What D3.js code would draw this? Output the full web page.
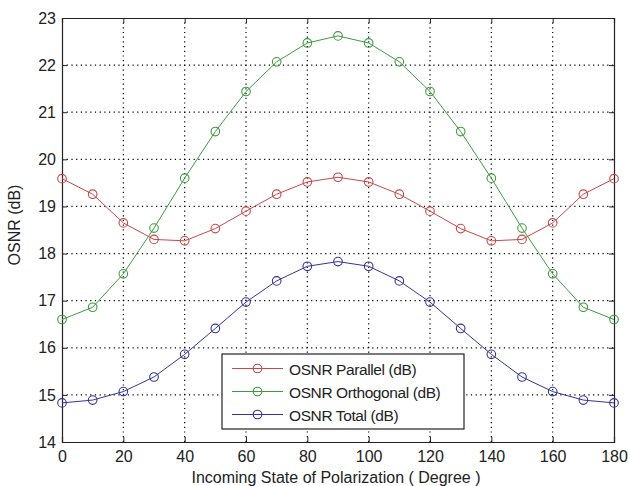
<!DOCTYPE html>
<html>
<head>
<meta charset="utf-8">
<script src="https://cdn.jsdelivr.net/npm/d3@7"></script>
<style>
  body { margin: 0; background: #fff; }
  svg text { font-family: "Liberation Sans", Arial, sans-serif; fill: #222; }
</style>
</head>
<body>
<svg id="chart" width="628" height="486"></svg>
<script>
// polarization angle (degree)
const angles = [0, 10, 20, 30, 40, 50, 60, 70, 80, 90, 100, 110, 120, 130, 140, 150, 160, 170, 180];
const osnrParallel = [19.59, 19.26, 18.65, 18.30, 18.27, 18.53, 18.90, 19.26, 19.52, 19.62, 19.52, 19.26, 18.90, 18.53, 18.27, 18.30, 18.65, 19.26, 19.59];
const osnrOrthogonal = [16.60, 16.86, 17.57, 18.54, 19.60, 20.59, 21.44, 22.07, 22.47, 22.62, 22.47, 22.07, 21.44, 20.59, 19.60, 18.54, 17.57, 16.86, 16.60];
const osnrTotal = [14.83, 14.89, 15.07, 15.38, 15.86, 16.41, 16.97, 17.42, 17.73, 17.83, 17.73, 17.42, 16.97, 16.41, 15.86, 15.38, 15.07, 14.89, 14.83];
const seriesNames = ["OSNR Parallel (dB)", "OSNR Orthogonal (dB)", "OSNR Total (dB)"];
const xTicks = [0, 20, 40, 60, 80, 100, 120, 140, 160, 180];
const yTicks = [14, 15, 16, 17, 18, 19, 20, 21, 22, 23];

/* layout */
const margin = { top: 18, right: 14, bottom: 44, left: 62 };
const width = 628, height = 486;
const colors = ["#c84848", "#3f9a3f", "#34349a"];
const fontSize = 16;

const svg = d3.select("#chart");

const x = d3.scaleLinear().domain([0, 180]).range([margin.left, width - margin.right]);
const y = d3.scaleLinear().domain([14, 23]).range([height - margin.bottom, margin.top]);

// dotted grid
const grid = svg.append("g");
grid.selectAll("line.gx").data(xTicks.slice(1, -1)).enter().append("line")
    .attr("x1", d => x(d)).attr("x2", d => x(d))
    .attr("y1", y(14)).attr("y2", y(23))
    .attr("stroke", "#000").attr("stroke-width", 1.2)
    .attr("stroke-dasharray", "1.2,3.5");
grid.selectAll("line.gy").data(yTicks.slice(1, -1)).enter().append("line")
    .attr("y1", d => y(d)).attr("y2", d => y(d))
    .attr("x1", x(0)).attr("x2", x(180))
    .attr("stroke", "#000").attr("stroke-width", 1.2)
    .attr("stroke-dasharray", "1.2,3.5");

// axes with ticks inside, MATLAB box
const xAxis = d3.axisBottom(x).tickValues(xTicks).tickSize(-5).tickPadding(9);
const yAxis = d3.axisLeft(y).tickValues(yTicks).tickSize(-5).tickPadding(6);

svg.append("g").attr("transform", "translate(0," + y(14) + ")").call(xAxis);
svg.append("g").attr("transform", "translate(" + x(0) + ",0)").call(yAxis);
svg.append("g").attr("transform", "translate(0," + y(23) + ")")
    .call(d3.axisTop(x).tickValues(xTicks).tickSize(-5).tickFormat(""));
svg.append("g").attr("transform", "translate(" + x(180) + ",0)")
    .call(d3.axisRight(y).tickValues(yTicks).tickSize(-5).tickFormat(""));

svg.selectAll(".domain").attr("stroke", "#222").attr("stroke-width", 1.2);
svg.selectAll(".tick line").attr("stroke", "#222");
svg.selectAll(".tick text").attr("font-size", fontSize).attr("fill", "#222")
    .attr("font-family", "Liberation Sans, Arial, sans-serif");

// axis labels
svg.append("text")
    .attr("x", 336).attr("y", 483)
    .attr("text-anchor", "middle").attr("font-size", fontSize)
    .text("Incoming State of Polarization ( Degree )");
svg.append("text")
    .attr("transform", "translate(20," + ((y(14) + y(23)) / 2 - 5) + ") rotate(-90)")
    .attr("text-anchor", "middle").attr("font-size", fontSize)
    .text("OSNR (dB)");

// series
const series = [osnrParallel, osnrOrthogonal, osnrTotal];
const line = d3.line().x((d, i) => x(angles[i])).y(d => y(d));

series.forEach(function (vals, k) {
    svg.append("path").datum(vals)
        .attr("d", line)
        .attr("fill", "none")
        .attr("stroke", colors[k])
        .attr("stroke-width", 1);
    svg.append("g").selectAll("circle").data(vals).enter().append("circle")
        .attr("cx", (d, i) => x(angles[i]))
        .attr("cy", d => y(d))
        .attr("r", 4.3)
        .attr("fill", "none")
        .attr("stroke", colors[k])
        .attr("stroke-width", 1.1);
});

// legend
const lg = svg.append("g").attr("transform", "translate(222,354)");
lg.append("rect").attr("width", 242).attr("height", 75)
    .attr("fill", "#fff").attr("stroke", "#222").attr("stroke-width", 1.2);
seriesNames.forEach(function (name, k) {
    const ly = 14.5 + k * 23;
    lg.append("line").attr("x1", 10).attr("x2", 61).attr("y1", ly).attr("y2", ly)
        .attr("stroke", colors[k]).attr("stroke-width", 1);
    lg.append("circle").attr("cx", 35.5).attr("cy", ly).attr("r", 4.3)
        .attr("fill", "none").attr("stroke", colors[k]).attr("stroke-width", 1.1);
    lg.append("text").attr("x", 67).attr("y", ly + 6.5)
        .attr("font-size", 15.5).attr("letter-spacing", "-0.4px").text(name);
});
</script>
</body>
</html>
